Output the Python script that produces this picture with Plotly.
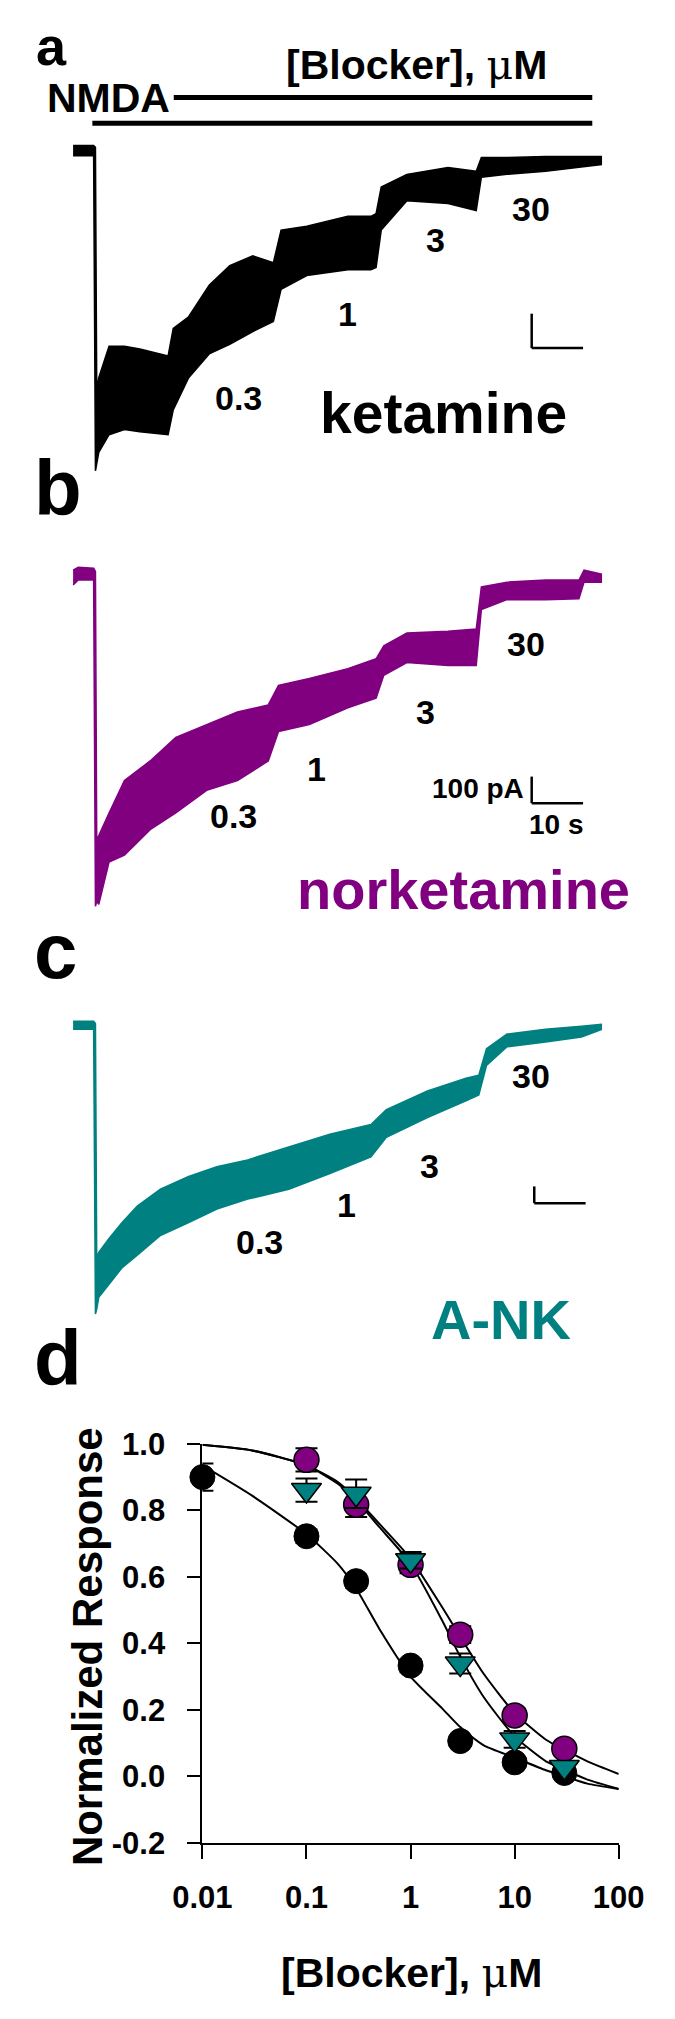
import plotly.graph_objects as go

W, H = 675, 2019
FONT = "Liberation Sans, Arial, sans-serif"
BLACK, PURPLE, TEAL = "#000000", "#800080", "#008080"

# ---------------- current traces (time in s, current in pA; upper / lower noise envelope) -------------
ta = [0, 4.0, 4.35, 4.6, 5.0, 7, 10, 13, 18.5, 19.5, 22.5, 26.5, 30.5, 35, 39, 40.5, 45.5, 53.5, 58, 59,
      60, 65, 73, 78.5, 79.5, 84.5, 92, 103]
a_hi = [15, 15, 10, -697, -660, -569, -569, -577, -597, -517, -483, -391, -334, -306, -326, -231, -220,
        -191, -191, -183, -106, -69, -49, -60, -20, -20, -17, -17]
a_lo = [-15, -15, -931, -911, -877, -826, -811, -817, -826, -754, -660, -591, -563, -526, -497, -403, -363,
        -346, -346, -340, -231, -146, -154, -174, -77, -69, -60, -40]

tb = [0, 1, 4.0, 4.35, 4.6, 5.0, 7, 10, 15, 20, 26, 32, 38, 40, 46, 53.5, 59, 60.5, 65, 73,
      78.5, 79.5, 84.5, 92, 98.5, 99.5, 103]
b_hi = [15, 26, 22, 10, -1000, -985, -900, -778, -704, -615, -567, -519, -493, -419, -393, -356, -319,
        -270, -222, -215, -207, -48, -30, -22, -22, 15, 0]
b_lo = [-41, -22, -22, -1252, -1233, -1244, -1085, -1059, -963, -900, -815, -778, -704, -593, -567, -504,
        -467, -381, -333, -344, -344, -133, -96, -96, -93, -30, -30]

tc = [0, 4.0, 4.35, 4.6, 5.0, 7, 9.5, 12.5, 17, 22.5, 28, 34, 42, 50, 58, 61, 69, 76.5, 79, 80.5,
      84.5, 92, 99, 103]
c_hi = [24, 24, 10, -1400, -1359, -1276, -1182, -1082, -982, -906, -847, -806, -729, -653, -594, -506,
        -394, -318, -300, -141, -53, -24, -6, 6]
c_lo = [-24, -24, -1729, -1700, -1629, -1553, -1453, -1376, -1259, -1182, -1100, -1041, -982, -888, -788,
        -671, -553, -453, -418, -241, -129, -100, -71, -24]

conc_labels = ["0.3", "1", "3", "30"]
nmda_on = [3.75, 101.1]
blocker_on = [19.6, 101.1]
scalebar_a = (89.3, -574)
scalebar_b = (89.3, -863)
scalebar_c = (89.8, -1065)
scale_t, scale_i = 10, 100

# ---------------- dose-response data ----------------
conc_k = [0.01, 0.1, 0.3, 1, 3, 10, 30]
resp_k = [0.90, 0.722, 0.587, 0.333, 0.106, 0.042, 0.01]
err_k = [0.041, 0.02, 0.02, 0.02, 0.012, 0.012, 0.01]
conc_n = [0.1, 0.3, 1, 3, 10, 30]
resp_n = [0.952, 0.817, 0.636, 0.426, 0.183, 0.083]
err_n = [0.035, 0.037, 0.025, 0.025, 0.02, 0.015]
conc_a = [0.1, 0.3, 1, 3, 10, 30]
resp_a = [0.861, 0.85, 0.65, 0.339, 0.111, 0.028]
err_a = [0.035, 0.043, 0.025, 0.03, 0.025, 0.015]

fit_x = [0.01, 0.03, 0.1, 0.2, 0.3, 0.5, 1, 2, 3, 5, 10, 20, 30, 50, 100]
fit_k = [0.935, 0.844, 0.728, 0.639, 0.565, 0.444, 0.30, 0.205, 0.148, 0.094, 0.056, 0.018, 0.0, -0.022, -0.038]
fit_n = [0.997, 0.98, 0.935, 0.885, 0.835, 0.76, 0.655, 0.51, 0.42, 0.31, 0.19, 0.11, 0.08, 0.045, 0.007]
fit_a = [0.997, 0.98, 0.935, 0.88, 0.83, 0.75, 0.64, 0.47, 0.36, 0.24, 0.12, 0.045, 0.02, -0.01, -0.038]

x_ticks = [0.01, 0.1, 1, 10, 100]
x_ticktext = ["0.01", "0.1", "1", "10", "100"]
y_ticks = [-0.2, 0.0, 0.2, 0.4, 0.6, 0.8, 1.0]
y_ticktext = ["-0.2", "0.0", "0.2", "0.4", "0.6", "0.8", "1.0"]

# ---------------- layout helpers ----------------
T0_PX, PX_PER_S = 47, 5.6
panels = {"y2": (136, 35), "y3": (567, 27), "y4": (1026, 17)}  # baseline px, px per 100 pA


def fx(x):
    return x / W


def fy(y):
    return 1 - y / H


def txt(s, x, y, size, color=BLACK, xanchor="center", angle=0, bold=True):
    return dict(text=s, x=fx(x), y=fy(y), xref="paper", yref="paper", xanchor=xanchor,
                yanchor="middle", showarrow=False, textangle=angle,
                font=dict(family=FONT, size=size, color=color, weight="bold" if bold else "normal"))


fig = go.Figure()

# traces a-c
for (t, hi, lo, col, yax) in [(ta, a_hi, a_lo, BLACK, "y2"), (tb, b_hi, b_lo, PURPLE, "y3"),
                               (tc, c_hi, c_lo, TEAL, "y4")]:
    fig.add_trace(go.Scatter(x=t, y=lo, mode="lines", line=dict(color=col, width=1.5),
                             xaxis="x2", yaxis=yax, showlegend=False, hoverinfo="skip"))
    fig.add_trace(go.Scatter(x=t, y=hi, mode="lines", line=dict(color=col, width=1.5), fill="tonexty",
                             fillcolor=col, xaxis="x2", yaxis=yax, showlegend=False, hoverinfo="skip"))

# dose-response
line_style = dict(color=BLACK, width=2, shape="spline", smoothing=0.6)
for fy_vals in [fit_k, fit_n, fit_a]:
    fig.add_trace(go.Scatter(x=fit_x, y=fy_vals, mode="lines", line=line_style, showlegend=False,
                             cliponaxis=False, hoverinfo="skip"))
err_style = dict(type="data", color=BLACK, thickness=2, width=11)
fig.add_trace(go.Scatter(x=conc_k, y=resp_k, mode="markers", error_y=dict(array=err_k, **err_style),
                         marker=dict(symbol="circle", size=25, color=BLACK, line=dict(color=BLACK, width=1)),
                         cliponaxis=False, showlegend=False))
fig.add_trace(go.Scatter(x=conc_n, y=resp_n, mode="markers", error_y=dict(array=err_n, **err_style),
                         marker=dict(symbol="circle", size=25, color=PURPLE, line=dict(color=BLACK, width=1.5)),
                         cliponaxis=False, showlegend=False))
fig.add_trace(go.Scatter(x=conc_a, y=resp_a, mode="markers", error_y=dict(array=err_a, **err_style),
                         marker=dict(symbol="triangle-down", size=26, color=TEAL, line=dict(color=BLACK, width=1.5)),
                         cliponaxis=False, showlegend=False))

# axes
xr = [(0 - T0_PX) / PX_PER_S, (W - T0_PX) / PX_PER_S]
layout_axes = dict(
    xaxis2=dict(domain=[0, 1], range=xr, visible=False, anchor="y2"),
)
for name, (base, ppp) in panels.items():
    k = ppp / 100.0
    layout_axes["yaxis" + name[1:]] = dict(domain=[0, 1], range=[-(H - base) / k, base / k],
                                           visible=False, anchor="x2")

tickfont = dict(family=FONT, size=31, color=BLACK, weight="bold")
fig.update_layout(
    width=W, height=H, margin=dict(l=0, r=0, t=0, b=0),
    paper_bgcolor="white", plot_bgcolor="rgba(0,0,0,0)",
    xaxis=dict(type="log", range=[-2, 2], domain=[fx(188), fx(642)], anchor="y",
               showline=True, linecolor=BLACK, linewidth=2, ticks="outside", ticklen=14, tickwidth=2,
               tickcolor=BLACK, tickvals=x_ticks, ticktext=x_ticktext, tickfont=tickfont,
               showgrid=False, zeroline=False, ticklabelstandoff=12),
    yaxis=dict(range=[-0.2, 1.0], domain=[fy(1858), fy(1452)], anchor="x",
               showline=True, linecolor=BLACK, linewidth=2, ticks="outside", ticklen=13, tickwidth=2,
               tickcolor=BLACK, tickvals=y_ticks, ticktext=y_ticktext, tickfont=tickfont,
               showgrid=False, zeroline=False, ticklabelstandoff=16),
    **layout_axes,
)

shapes = []
# application bars
for (on, ypix) in [(blocker_on, 82), (nmda_on, 108)]:
    shapes.append(dict(type="line", xref="x2", yref="paper", x0=on[0], x1=on[1], y0=fy(ypix), y1=fy(ypix),
                       line=dict(color=BLACK, width=5)))
# scale bars
for (sb, yax) in [(scalebar_a, "y2"), (scalebar_b, "y3"), (scalebar_c, "y4")]:
    t0, i0 = sb
    shapes.append(dict(type="line", xref="x2", yref=yax, x0=t0, x1=t0 + scale_t, y0=i0, y1=i0,
                       line=dict(color=BLACK, width=2.5)))
    shapes.append(dict(type="line", xref="x2", yref=yax, x0=t0, x1=t0, y0=i0, y1=i0 + scale_i,
                       line=dict(color=BLACK, width=2.5)))
fig.update_layout(shapes=shapes)

mu = '<span style="font-family:DejaVu Serif;font-weight:normal">μ</span>'
ann = [
    txt("a", 4, 48.5 - 0.35 * 54, 54, xanchor="left"),
    txt("b", 2, 507 - 0.35 * 78, 78, xanchor="left"),
    txt("c", 2, 978 - 0.35 * 78, 78, xanchor="left"),
    txt("d", 2, 1392 - 0.35 * 78, 78, xanchor="left"),
    txt("[Blocker], " + mu + "M", 421, 49, 41),
    txt("NMDA", 86, 82, 41),
    txt("ketamine", 588, 423 - 0.35 * 57, 57, xanchor="right"),
    txt("norketamine", 656, 907 - 0.35 * 56, 56, color=PURPLE, xanchor="right"),
    txt("A-NK", 592, 1345 - 0.35 * 56, 56, color=TEAL, xanchor="right"),
    txt("100 pA", 541, 785, 28, xanchor="right"),
    txt("10 s", 574, 822, 28),
    txt("Normalized Response", 62, 1658, 42, angle=-90),
    txt("[Blocker], " + mu + "M", 416, 1991, 41),
]
label_pos = {
    "a": [(227, 388), (346, 302), (442, 227), (546, 195)],
    "b": [(222, 813), (312, 765), (431, 707), (541, 638)],
    "c": [(250, 1247), (345, 1209), (436, 1169), (546, 1078)],
}
for pnl, pos in label_pos.items():
    for lab, (x, y) in zip(conc_labels, pos):
        ann.append(txt(lab, x, y, 34))
fig.update_layout(annotations=ann)

fig.write_html("out.html", config={"displayModeBar": False},
               post_script="document.body.style.margin='0px';")
